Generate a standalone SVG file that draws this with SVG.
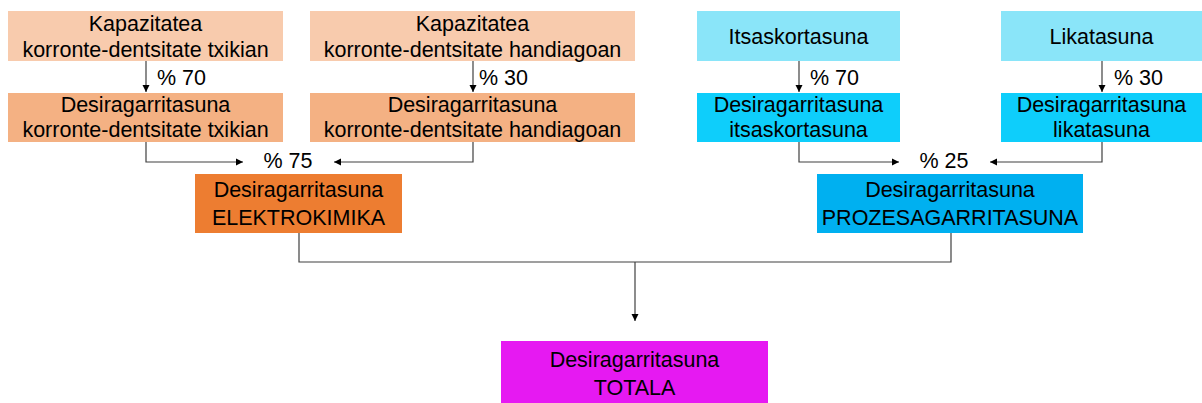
<svg xmlns="http://www.w3.org/2000/svg" width="1202" height="403" viewBox="0 0 1202 403">
<style>
text{font-family:"Liberation Sans",Arial,sans-serif;font-size:21.5px;fill:#000;text-anchor:middle}
.t1{fill:#F8CBAD}.t2{fill:#F4B183}.t3{fill:#ED7D31}
.c1{fill:#8AE5F9}.c2{fill:#0ECEFB}.c3{fill:#00B0F0}
.m{fill:#E619F2}
.ln{fill:none;stroke:#404040;stroke-width:1.2}
.lbl{text-anchor:start}
</style>
<defs>
<marker id="ah" markerWidth="8" markerHeight="8" refX="7" refY="4" orient="auto" markerUnits="userSpaceOnUse">
<path d="M0,0.5 L7,4 L0,7.5 Z" fill="#000"/>
</marker>
</defs>
<g id="n1"><rect class="t1" x="8" y="11" width="275" height="50"/><text x="145.5" y="31">Kapazitatea</text><text x="145.5" y="57">korronte-dentsitate txikian</text></g>
<g id="n2"><rect class="t1" x="310" y="11" width="325" height="50"/><text x="472.5" y="31">Kapazitatea</text><text x="472.5" y="57">korronte-dentsitate handiagoan</text></g>
<g id="n3"><rect class="c1" x="697" y="11" width="203" height="50"/><text x="798.5" y="44">Itsaskortasuna</text></g>
<g id="n4"><rect class="c1" x="1001" y="11" width="201" height="50"/><text x="1101.5" y="44">Likatasuna</text></g>
<g id="n5"><rect class="t2" x="8" y="93" width="275" height="49"/><text x="145.5" y="112">Desiragarritasuna</text><text x="145.5" y="137">korronte-dentsitate txikian</text></g>
<g id="n6"><rect class="t2" x="310" y="93" width="325" height="49"/><text x="472.5" y="112">Desiragarritasuna</text><text x="472.5" y="137">korronte-dentsitate handiagoan</text></g>
<g id="n7"><rect class="c2" x="697" y="93" width="203" height="49"/><text x="798.5" y="112">Desiragarritasuna</text><text x="798.5" y="137">itsaskortasuna</text></g>
<g id="n8"><rect class="c2" x="1001" y="93" width="201" height="49"/><text x="1101.5" y="112">Desiragarritasuna</text><text x="1101.5" y="137">likatasuna</text></g>
<g id="n9"><rect class="t3" x="195" y="174" width="207" height="59"/><text x="298.5" y="197">Desiragarritasuna</text><text x="298.5" y="225">ELEKTROKIMIKA</text></g>
<g id="n10"><rect class="c3" x="817" y="174" width="266" height="59"/><text x="950" y="197">Desiragarritasuna</text><text x="950" y="225">PROZESAGARRITASUNA</text></g>
<g id="n11"><rect class="m" x="501" y="341" width="267" height="62"/><text x="634.5" y="367">Desiragarritasuna</text><text x="634.5" y="395">TOTALA</text></g>
<g id="connectors">
<path class="ln" d="M146,61 V92" marker-end="url(#ah)"/>
<path class="ln" d="M473,61 V92" marker-end="url(#ah)"/>
<path class="ln" d="M799,61 V92" marker-end="url(#ah)"/>
<path class="ln" d="M1102,61 V92" marker-end="url(#ah)"/>
<path class="ln" d="M146,142 V162 H243" marker-end="url(#ah)"/>
<path class="ln" d="M473,142 V162 H334" marker-end="url(#ah)"/>
<path class="ln" d="M799,142 V162 H899" marker-end="url(#ah)"/>
<path class="ln" d="M1102,142 V162 H990" marker-end="url(#ah)"/>
<path class="ln" d="M299,233 V262 H951 V233"/>
<path class="ln" d="M635,262 V321" marker-end="url(#ah)"/>
</g>
<g id="labels">
<text class="lbl" x="157" y="85">% 70</text>
<text class="lbl" x="479" y="85">% 30</text>
<text class="lbl" x="810" y="85">% 70</text>
<text class="lbl" x="1114" y="85">% 30</text>
<text x="288" y="168">% 75</text>
<text x="944" y="168">% 25</text>
</g>
</svg>
